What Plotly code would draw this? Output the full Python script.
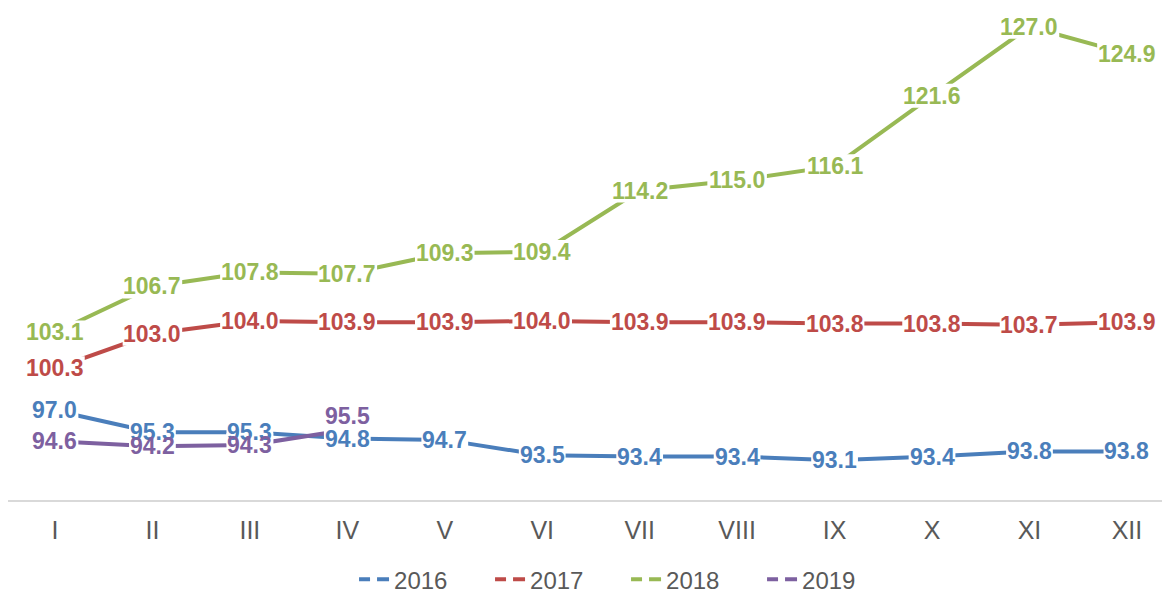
import plotly.graph_objects as go

months = ["I", "II", "III", "IV", "V", "VI", "VII", "VIII", "IX", "X", "XI", "XII"]
series_names = ["2016", "2017", "2018", "2019"]
v2016 = [97.0, 95.3, 95.3, 94.8, 94.7, 93.5, 93.4, 93.4, 93.1, 93.4, 93.8, 93.8]
v2017 = [100.3, 103.0, 104.0, 103.9, 103.9, 104.0, 103.9, 103.9, 103.8, 103.8, 103.7, 103.9]
v2018 = [103.1, 106.7, 107.8, 107.7, 109.3, 109.4, 114.2, 115.0, 116.1, 121.6, 127.0, 124.9]
v2019 = [94.6, 94.2, 94.3, 95.5]

values = [v2016, v2017, v2018, v2019]
colors = ["#4A7EBB", "#BE4B48", "#98B954", "#7D60A0"]

FONT = "Liberation Sans, Arial, sans-serif"
LABEL_SIZE = 23

fig = go.Figure()
for name, vals, col in zip(series_names, values, colors):
    fig.add_trace(go.Scatter(
        x=months[:len(vals)], y=vals, mode="lines", name=name,
        line=dict(color=col, width=4), showlegend=False, hoverinfo="skip"))

for name, col in zip(series_names, colors):
    fig.add_trace(go.Scatter(
        x=[None], y=[None], mode="lines", name=name,
        line=dict(color=col, width=4, dash="11px,7px,12px")))

# label vertical shifts (px) for labels moved off their point
label_shift = {("2019", 3): 14}

def text_width(s):
    w = 0.0
    for ch in s:
        w += 0.278 if ch == "." else 0.556
    return w * LABEL_SIZE

annotations = []
shapes = []
for name, vals, col in zip(series_names, values, colors):
    for i, v in enumerate(vals):
        txt = f"{v:.1f}"
        sh = label_shift.get((name, i), 0)
        hw = text_width(txt) / 2 + 1
        shapes.append(dict(
            type="rect", layer="above", xref="x", yref="y",
            xsizemode="pixel", ysizemode="pixel",
            xanchor=months[i], yanchor=v,
            x0=-hw, x1=hw, y0=sh - 12, y1=sh + 12,
            fillcolor="white", line=dict(width=0)))
        annotations.append(dict(
            x=months[i], y=v, xref="x", yref="y", text=txt,
            showarrow=False, xanchor="center", yanchor="middle",
            yshift=sh,
            font=dict(family=FONT, size=LABEL_SIZE, color=col, weight="bold")))

fig.update_layout(
    width=1162, height=586,
    margin=dict(l=0, r=0, t=0, b=94, autoexpand=False),
    paper_bgcolor="white", plot_bgcolor="white",
    annotations=annotations,
    shapes=shapes,
    showlegend=True,
    legend=dict(orientation="h", x=0.2978, xanchor="left",
                yref="container", y=0.0245, yanchor="middle",
                font=dict(family=FONT, size=24, color="#595959"),
                entrywidth=91, bgcolor="rgba(0,0,0,0)"),
    xaxis=dict(type="category", categoryorder="array", categoryarray=months,
               range=[-0.482, 11.442], showline=True, linecolor="#D9D9D9", linewidth=1.5,
               showgrid=False, zeroline=False, ticks="", ticklabelstandoff=7,
               tickfont=dict(family=FONT, size=25, color="#595959")),
    yaxis=dict(range=[90, 128.47], showgrid=False, zeroline=False, showline=False,
               showticklabels=False, ticks=""),
)

fig.write_html("out.html")
